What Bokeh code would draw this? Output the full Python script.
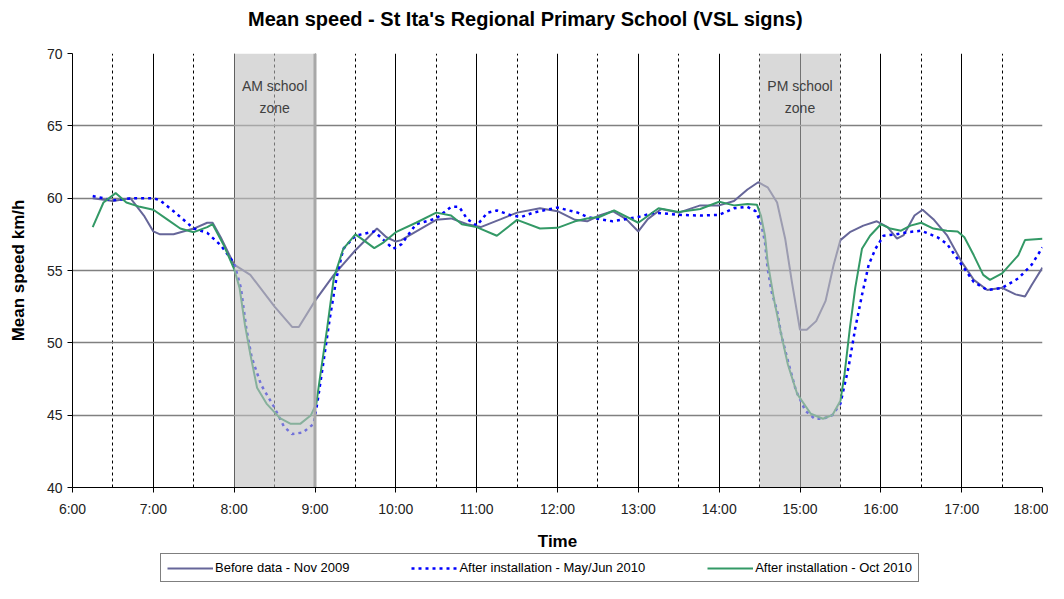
from bokeh.plotting import figure
from bokeh.layouts import column
from bokeh.models import FixedTicker, Legend, LegendItem, Range1d, Label
from bokeh.core.properties import value
from bokeh.embed import file_html
from bokeh.resources import INLINE

TITLE = "Mean speed - St Ita's Regional Primary School (VSL signs)"
X_LABEL = "Time"
Y_LABEL = "Mean speed km/h"
X_TICK_HOURS = list(range(6, 19))
X_TICK_LABELS = ["%d:00" % h for h in X_TICK_HOURS]
X_MINOR_HOURS = [h + 0.5 for h in range(6, 18)]
Y_TICKS = [40, 45, 50, 55, 60, 65, 70]

ZONE_START = ["8:00", "14:30"]
ZONE_END = ["9:00", "15:30"]
ZONE_LABELS = ["AM school\nzone", "PM school\nzone"]

SERIES_NAMES = ["Before data - Nov 2009",
                "After installation - May/Jun 2010",
                "After installation - Oct 2010"]

before_t = ["6:15", "6:30", "6:43", "6:53", "7:00", "7:05", "7:15", "7:30", "7:40", "7:44",
            "7:50", "8:00", "8:12", "8:30", "8:43", "8:48", "9:00", "9:14", "9:30", "9:46",
            "9:53", "10:00", "10:04", "10:30", "10:41", "10:53", "11:03", "11:18", "11:30", "11:47",
            "12:00", "12:13", "12:22", "12:31", "12:41", "12:51", "13:00", "13:07", "13:17", "13:30",
            "13:46", "14:00", "14:11", "14:21", "14:29", "14:36", "14:43", "14:49", "14:54", "15:00",
            "15:05", "15:12", "15:19", "15:25", "15:30", "15:37", "15:47", "15:57", "16:05", "16:12",
            "16:17", "16:25", "16:31", "16:39", "16:49", "17:00", "17:09", "17:19", "17:30", "17:40",
            "17:47", "17:52", "18:00"]
before_v = [60.0, 59.8, 60.0, 58.8, 57.7, 57.5, 57.5, 57.9, 58.3, 58.3,
            57.3, 55.4, 54.7, 52.5, 51.1, 51.1, 52.9, 54.7, 56.4, 57.9,
            57.3, 57.0, 57.1, 58.5, 58.6, 58.2, 58.0, 58.55, 59.0, 59.3,
            59.1, 58.5, 58.4, 58.8, 59.1, 58.55, 57.7, 58.55, 59.25, 59.0,
            59.5, 59.5, 59.8, 60.6, 61.1, 60.75, 59.7, 57.2, 54.2, 50.9,
            50.9, 51.5, 52.9, 55.4, 57.1, 57.65, 58.1, 58.4, 58.0, 57.2,
            57.45, 58.8, 59.2, 58.55, 57.45, 55.6, 54.35, 53.65, 53.8, 53.35,
            53.2, 54.0, 55.2]

mayjun_t = ["6:15", "6:30", "6:45", "7:00", "7:05", "7:15", "7:25", "7:30", "7:40", "7:50",
            "8:00", "8:05", "8:09", "8:13", "8:20", "8:30", "8:37", "8:43", "8:51", "8:59",
            "9:02", "9:06", "9:11", "9:16", "9:21", "9:30", "9:44", "9:51", "9:58", "10:04",
            "10:15", "10:30", "10:41", "10:47", "10:53", "11:00", "11:08", "11:15", "11:26", "11:33",
            "11:42", "12:00", "12:15", "12:22", "12:31", "12:41", "13:00", "13:12", "13:30", "13:46",
            "14:00", "14:11", "14:21", "14:27", "14:31", "14:34", "14:36", "14:39", "14:43", "14:46",
            "14:51", "14:57", "15:04", "15:11", "15:17", "15:24", "15:30", "15:36", "15:41", "15:46",
            "15:51", "15:56", "16:02", "16:11", "16:20", "16:30", "16:42", "16:49", "17:00", "17:09",
            "17:19", "17:30", "17:42", "17:52", "18:00"]
mayjun_v = [60.15, 59.85, 60.0, 60.0, 59.85, 59.1, 58.3, 57.9, 57.6, 56.75,
            55.5, 53.8, 51.0, 49.0, 47.1, 45.5, 44.2, 43.7, 43.8, 44.4,
            46.0, 48.5, 51.7, 54.5, 56.5, 57.4, 57.7, 57.1, 56.5, 56.8,
            58.2, 58.6, 59.4, 59.4, 58.55, 58.1, 59.0, 59.15, 58.8, 58.7,
            59.0, 59.35, 59.0, 58.7, 58.55, 58.4, 58.7, 59.0, 58.85, 58.8,
            58.85, 59.3, 59.4, 59.1, 58.3, 56.95, 55.1, 53.5, 52.2, 50.6,
            48.75, 46.7, 45.3, 44.75, 44.75, 45.0, 45.8, 48.3, 51.0, 53.3,
            55.4, 56.5, 57.4, 57.5, 57.65, 57.75, 57.3, 56.85, 55.4, 54.2,
            53.65, 53.8, 54.45, 55.4, 56.6]

oct_t = ["6:15", "6:23", "6:32", "6:40", "6:50", "7:00", "7:10", "7:20", "7:30", "7:40",
         "7:44", "7:52", "8:00", "8:04", "8:08", "8:12", "8:17", "8:24", "8:34", "8:42",
         "8:49", "8:57", "9:01", "9:04", "9:09", "9:14", "9:21", "9:30", "9:36", "9:44",
         "9:51", "10:00", "10:15", "10:30", "10:41", "10:49", "11:00", "11:15", "11:30", "11:47",
         "12:00", "12:13", "12:22", "12:31", "12:42", "13:00", "13:15", "13:30", "13:46", "14:00",
         "14:11", "14:21", "14:28", "14:31", "14:34", "14:36", "14:41", "14:46", "14:51", "14:58",
         "15:08", "15:17", "15:24", "15:30", "15:33", "15:37", "15:41", "15:46", "15:52", "16:00",
         "16:07", "16:15", "16:22", "16:30", "16:39", "16:49", "16:57", "17:02", "17:09", "17:16",
         "17:21", "17:30", "17:42", "17:47", "18:00"]
oct_v = [58.0, 59.7, 60.35, 59.7, 59.4, 59.2, 58.55, 57.9, 57.65, 58.0,
         58.2, 56.8, 55.1, 53.8, 51.25, 49.2, 46.9, 45.8, 44.8, 44.4,
         44.4, 45.0, 45.8, 47.8, 51.0, 54.5, 56.5, 57.5, 57.1, 56.55,
         56.95, 57.65, 58.3, 59.0, 58.8, 58.2, 58.0, 57.4, 58.5, 57.9,
         57.95, 58.4, 58.6, 58.7, 59.15, 58.3, 59.3, 59.05, 59.25, 59.75,
         59.5, 59.6, 59.55, 58.8, 57.4, 55.6, 52.85, 50.6, 48.5, 46.45,
         45.1, 44.75, 45.0, 46.0, 47.8, 51.0, 53.8, 56.5, 57.4, 58.2,
         57.9, 57.75, 58.1, 58.3, 57.9, 57.75, 57.7, 57.3, 56.05, 54.7,
         54.35, 54.8, 56.05, 57.1, 57.2]


def hours(ts):
    out = []
    for s in ts:
        h, m = s.split(":")
        out.append(int(h) + int(m) / 60.0)
    return out


FONT = "Liberation Sans"
W = 1048
FRAME_L, FRAME_R = 72, 1042   # the column layout aligns every strip to the chart frame
STYLES = [dict(line_color="#666699", line_width=2),
          dict(line_color="#0000FF", line_width=2.5, line_dash="3 4"),
          dict(line_color="#339966", line_width=2)]
SERIES = [(hours(before_t), before_v), (hours(mayjun_t), mayjun_v), (hours(oct_t), oct_v)]


def blank(height, xr, yr):
    f = figure(width=W, height=height, x_range=xr, y_range=yr,
               x_axis_location=None, y_axis_location=None,
               output_backend="svg", toolbar_location=None,
               min_border_left=0, min_border_right=0, min_border_top=0, min_border_bottom=0,
               background_fill_color="white", border_fill_color="white")
    f.outline_line_color = None
    f.grid.visible = False
    return f


# ---- title strip ----
tf = blank(40, Range1d(FRAME_L, FRAME_R), Range1d(40, 0))
tf.add_layout(Label(x=525, y=18, text=TITLE, text_align="center", text_baseline="middle",
                    text_font=FONT, text_font_size="20px", text_font_style="bold",
                    text_color="black"))

# ---- main chart ----
p = figure(width=W, height=513,
           x_range=Range1d(6, 18), y_range=Range1d(40, 70),
           output_backend="svg", toolbar_location=None,
           min_border_left=FRAME_L, min_border_right=W - FRAME_R,
           min_border_top=13, min_border_bottom=62,
           background_fill_color="white", border_fill_color="white")
p.outline_line_color = None

p.xaxis.ticker = FixedTicker(ticks=X_TICK_HOURS, minor_ticks=X_MINOR_HOURS)
p.xaxis.major_label_overrides = {h: lab for h, lab in zip(X_TICK_HOURS, X_TICK_LABELS)}
p.yaxis.ticker = FixedTicker(ticks=Y_TICKS)
for ax in (p.xaxis[0], p.yaxis[0]):
    ax.axis_line_color = "black"
    ax.major_tick_line_color = "black"
    ax.major_tick_out = 5
    ax.major_tick_in = 0
    ax.minor_tick_line_color = None
    ax.major_label_text_font = FONT
    ax.major_label_text_font_size = "14px"
    ax.major_label_text_color = "#222222"
    ax.axis_label_text_font = FONT
    ax.axis_label_text_font_size = "17px"
    ax.axis_label_text_font_style = "bold"
    ax.axis_label_text_color = "black"
p.xaxis.axis_label = X_LABEL
p.yaxis.axis_label = Y_LABEL
p.xaxis.major_label_standoff = 8
p.xaxis.axis_label_standoff = 12
p.yaxis.major_label_standoff = 5
p.yaxis.axis_label_standoff = 16

p.xgrid.ticker = FixedTicker(ticks=X_TICK_HOURS, minor_ticks=X_MINOR_HOURS)
p.xgrid.grid_line_color = "black"
p.xgrid.grid_line_width = 1
p.xgrid.minor_grid_line_color = "black"
p.xgrid.minor_grid_line_dash = "3 3"
p.xgrid.minor_grid_line_width = 1
p.ygrid.ticker = FixedTicker(ticks=Y_TICKS)
p.ygrid.grid_line_color = "#808080"
p.ygrid.grid_line_width = 1.5

for (xs, ys), st in zip(SERIES, STYLES):
    p.line(xs, ys, **st)

# school zone shading (drawn over the lines, semi-transparent)
p.quad(left=hours(ZONE_START), right=hours(ZONE_END), bottom=40, top=70,
       fill_color="#BFBFBF", fill_alpha=0.6, line_color=None)
p.segment(x0=hours(ZONE_END)[:1], y0=[40], x1=hours(ZONE_END)[:1], y1=[70],
          line_color="#A8A8A8", line_width=3)
mid = [(a + b) / 2 for a, b in zip(hours(ZONE_START), hours(ZONE_END))]
p.text(x=mid, y=[67.0, 67.0], text=ZONE_LABELS,
       text_align="center", text_baseline="middle",
       text_font=value(FONT), text_font_size="14px", text_color="#404040",
       text_line_height=1.4)

# ---- legend strip (same series, out of this strip's view; only the legend shows) ----
lg = blank(30, Range1d(0, 1), Range1d(0, 1))
lr = [lg.line(xs, ys, **st) for (xs, ys), st in zip(SERIES, STYLES)]
legend = Legend(items=[LegendItem(label=n, renderers=[r]) for n, r in zip(SERIES_NAMES, lr)],
                orientation="horizontal", location=(160 - FRAME_L, 1),
                border_line_color="black", border_line_width=1,
                background_fill_color="white",
                label_text_font=FONT, label_text_font_size="13px",
                label_text_color="black",
                glyph_width=46, glyph_height=14, label_standoff=2,
                spacing=62, padding=6, margin=0)
lg.add_layout(legend, "center")

layout = column(tf, p, lg, spacing=0)
open("out.html", "w").write(file_html(layout, INLINE))
